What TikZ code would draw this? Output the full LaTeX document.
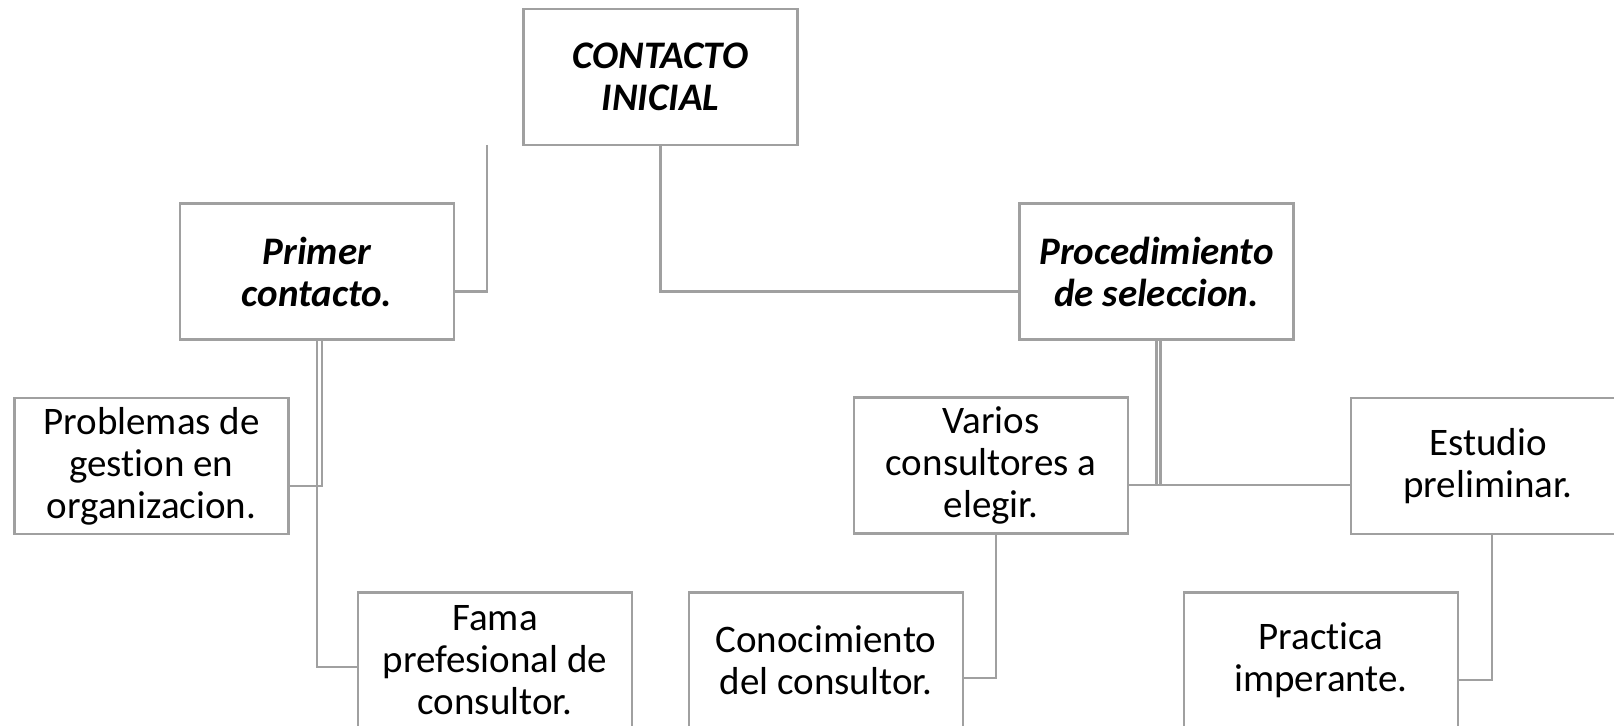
\documentclass[tikz,border=0pt]{standalone}
\usepackage{fontspec}
\setmainfont{Carlito}[Ligatures={NoCommon}]
\definecolor{linegray}{RGB}{160,160,160}
\newcommand\bodyfnt{\fontsize{19.5}{21}\selectfont}
\newcommand\headfnt{\fontsize{19.5}{21}\selectfont\bfseries\itshape}
\tikzset{
  box/.style={draw=linegray, line width=1.3pt, fill=white, minimum width=137pt,
    minimum height=68pt, inner sep=0pt, align=center, font=\bodyfnt},
  hbox/.style={box, font=\headfnt},
  conn/.style={draw=linegray, line width=1.3pt},
}
\begin{document}
\begin{tikzpicture}[x=0.5pt,y=-0.5pt]
\useasboundingbox (0,0) rectangle (1614,726);
\clip (0,0) rectangle (1614,726);
\fill[white] (0,0) rectangle (1614,726);

\node[hbox] (ci) at (660.5,77) {CONTACTO\\INICIAL};
\node[hbox] (pc) at (317,271.5) {Primer\\contacto.};
\node[hbox] (ps) at (1156.5,271.5) {Procedimiento\\de seleccion.};
\node[box] (pg) at (151.5,466) {Problemas de\\gestion en\\organizacion.};
\node[box] (vc) at (991,465.5) {Varios\\consultores a\\elegir.};
\node[box] (ep) at (1488,466) {Estudio\\preliminar.};
\node[box] (fp) at (495,660.5) {Fama\\prefesional de\\consultor.};
\node[box] (cc) at (826,660.5) {Conocimiento\\del consultor.};
\node[box] (pi) at (1321,660.5) {Practica\\imperante.};

\draw[conn] (ci.south) |- ([yshift=-10pt]ps.west);
\coordinate (dl) at (487,145);
\draw[conn] (dl) |- ([yshift=-10pt]pc.east);
\draw[conn] (pc.south) |- ([yshift=-3.25pt]fp.west);
\draw[conn] ([xshift=2.5pt]pc.south) |- ([yshift=-10pt]pg.east);
\coordinate (hl) at ([yshift=-9.75pt]vc.east);
\draw[conn] (hl) -- (hl -| ep.west);
\draw[conn] (ps.south) -- (ps.south |- hl);
\draw[conn] ([xshift=2pt]ps.south) -- ([xshift=2pt]ps.south |- hl);
\draw[conn] ([xshift=2.5pt]vc.south) |- ([yshift=-8.75pt]cc.east);
\draw[conn] ([xshift=2pt]ep.south) |- ([yshift=-9.75pt]pi.east);
\end{tikzpicture}
\end{document}
